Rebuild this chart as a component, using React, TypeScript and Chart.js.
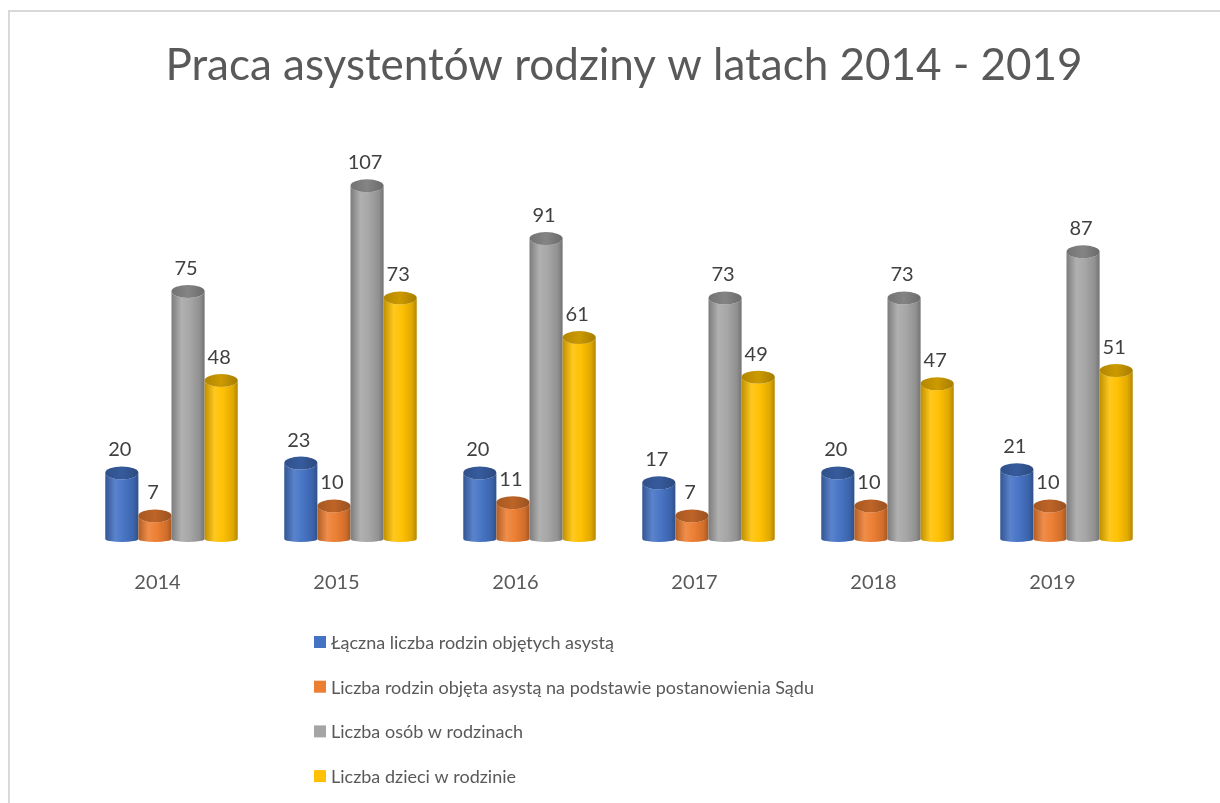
import React, { useEffect, useRef } from "react";
import { Chart, registerables } from "chart.js";

Chart.register(...registerables);

const chartTitle = "Praca asystentów rodziny w latach 2014 - 2019";
const categories = ["2014", "2015", "2016", "2017", "2018", "2019"];
const seriesNames = [
  "Łączna liczba rodzin objętych asystą",
  "Liczba rodzin objęta asystą na podstawie postanowienia Sądu",
  "Liczba osób w rodzinach",
  "Liczba dzieci w rodzinie",
];
const totalFamilies = [20, 23, 20, 17, 20, 21];
const courtFamilies = [7, 10, 11, 7, 10, 10];
const personsInFamilies = [75, 107, 91, 73, 73, 87];
const childrenInFamilies = [48, 73, 61, 49, 47, 51];
const seriesColors = ["#4472C4", "#ED7D31", "#A5A5A5", "#FFC000"];

const FONT = "Lato, 'Open Sans', sans-serif";
const DEPTH_DX = 14; // 3D perspective shift of the cylinders
const TOP_RY = 6.5;
const BOTTOM_RY = 3;

function shade(hex: string, f: number): string {
  const n = parseInt(hex.slice(1), 16);
  let r = (n >> 16) & 255, g = (n >> 8) & 255, b = n & 255;
  if (f < 0) {
    r = Math.round(r * (1 + f)); g = Math.round(g * (1 + f)); b = Math.round(b * (1 + f));
  } else {
    r = Math.round(r + (255 - r) * f); g = Math.round(g + (255 - g) * f); b = Math.round(b + (255 - b) * f);
  }
  return `rgb(${r},${g},${b})`;
}

const cylinderPlugin = {
  id: "cylinders",
  beforeDatasetsDraw(chart: any) {
    const ctx = chart.ctx as CanvasRenderingContext2D;
    const n = chart.data.labels.length;
    const labels: any[] = [];
    for (let j = 0; j < n; j++) {
      chart.data.datasets.forEach((ds: any, i: number) => {
        const el = chart.getDatasetMeta(i).data[j];
        if (!el) return;
        const { x, y, base, width } = el.getProps(["x", "y", "base", "width"], true);
        const cx = x + DEPTH_DX;
        const rx = width / 2;
        const left = cx - rx;
        const right = cx + rx;
        const c = seriesColors[i];
        ctx.save();
        const g = ctx.createLinearGradient(left, 0, right, 0);
        g.addColorStop(0, shade(c, -0.25));
        g.addColorStop(0.3, shade(c, 0.12));
        g.addColorStop(0.55, shade(c, 0.02));
        g.addColorStop(0.85, shade(c, -0.12));
        g.addColorStop(1, shade(c, -0.3));
        ctx.beginPath();
        ctx.moveTo(left, y);
        ctx.lineTo(left, base);
        ctx.ellipse(cx, base, rx, BOTTOM_RY, 0, Math.PI, 0, true);
        ctx.lineTo(right, y);
        ctx.ellipse(cx, y, rx, TOP_RY, 0, 0, Math.PI, false);
        ctx.closePath();
        ctx.fillStyle = g;
        ctx.fill();
        const gt = ctx.createLinearGradient(left, 0, right, 0);
        gt.addColorStop(0, shade(c, -0.3));
        gt.addColorStop(0.5, shade(c, -0.2));
        gt.addColorStop(1, shade(c, -0.35));
        ctx.beginPath();
        ctx.ellipse(cx, y, rx, TOP_RY, 0, 0, Math.PI * 2);
        ctx.fillStyle = gt;
        ctx.fill();
        ctx.restore();
        labels.push({ x: cx - 2, y: y - 23, text: String(ds.data[j]) });
      });
    }
    ctx.save();
    ctx.fillStyle = "#404040";
    ctx.font = `20px ${FONT}`;
    ctx.textAlign = "center";
    ctx.textBaseline = "middle";
    labels.forEach((l) => ctx.fillText(l.text, l.x, l.y));
    ctx.restore();
    return false;
  },
};

const legendPlugin = {
  id: "listLegend",
  afterDraw(chart: any) {
    const ctx = chart.ctx as CanvasRenderingContext2D;
    const startX = 314;
    const startY = 642;
    const rowH = 44.7;
    ctx.save();
    ctx.font = `18px ${FONT}`;
    ctx.textBaseline = "middle";
    ctx.textAlign = "left";
    chart.data.datasets.forEach((ds: any, i: number) => {
      const yy = startY + i * rowH;
      ctx.fillStyle = seriesColors[i];
      ctx.fillRect(startX, yy - 6, 12, 12);
      ctx.fillStyle = "#595959";
      ctx.fillText(ds.label, startX + 17, yy + 1);
    });
    ctx.restore();
  },
};

export default function App() {
  const ref = useRef<HTMLCanvasElement | null>(null);
  useEffect(() => {
    if (!ref.current) return;
    const seriesValues = [totalFamilies, courtFamilies, personsInFamilies, childrenInFamilies];
    const chart = new Chart(ref.current, {
      type: "bar",
      data: {
        labels: categories,
        datasets: seriesValues.map((vals, i) => ({
          label: seriesNames[i],
          data: vals,
          backgroundColor: seriesColors[i],
          categoryPercentage: 0.74,
          barPercentage: 1.0,
        })),
      },
      options: {
        animation: false,
        responsive: false,
        layout: { padding: { top: 0, left: 28, right: 0, bottom: 176 } },
        plugins: {
          legend: { display: false },
          tooltip: { enabled: false },
          title: {
            display: true,
            text: chartTitle,
            color: "#595959",
            font: { family: FONT, size: 44, weight: "normal" as any, lineHeight: 1.2 },
            padding: { top: 39, bottom: 51 },
          },
        },
        scales: {
          x: {
            grid: { display: false, drawTicks: false },
            border: { display: false },
            ticks: { color: "#595959", font: { family: FONT, size: 20 }, padding: 32 },
          },
          y: {
            display: true,
            min: 0,
            max: 120,
            grid: { display: false, drawTicks: false },
            border: { display: false },
            ticks: { display: false },
            afterFit: (s: any) => { s.width = 40; },
          },
          yRight: {
            type: "linear",
            position: "right",
            display: true,
            grid: { display: false, drawTicks: false },
            border: { display: false },
            ticks: { display: false },
            afterFit: (s: any) => { s.width = 78; },
          },
        },
      },
      plugins: [cylinderPlugin, legendPlugin],
    });
    return () => chart.destroy();
  }, []);
  return (
    <div style={{ position: "fixed", left: 0, top: 0, width: 1220, height: 803, overflow: "hidden", background: "#fff" }}>
      <div
        style={{
          position: "absolute",
          left: 8,
          top: 10,
          width: 1300,
          height: 900,
          borderLeft: "2px solid #d9d9d9",
          borderTop: "2px solid #d9d9d9",
        }}
      />
      <canvas ref={ref} width={1220} height={803} style={{ position: "absolute", left: 0, top: 0 }} />
    </div>
  );
}
